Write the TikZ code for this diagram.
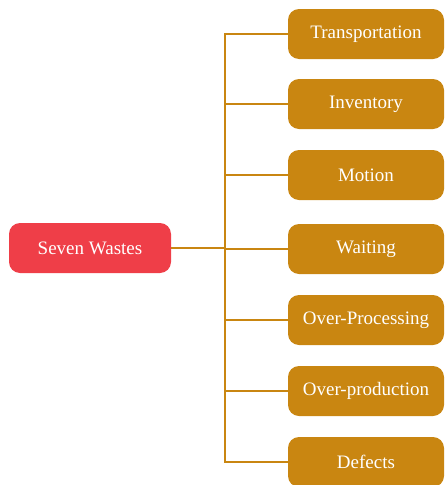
\documentclass[tikz,border=0pt]{standalone}
\usepackage{fontspec}
\setmainfont{Liberation Serif}
\definecolor{rootred}{HTML}{EF3E48}
\definecolor{leafgold}{HTML}{C98611}
\begin{document}
\begin{tikzpicture}[x=1pt,y=-1pt,
  rootbox/.style={fill=rootred, text=white, rounded corners=11pt,
    minimum width=162pt, minimum height=50pt, inner sep=0pt, font=\fontsize{19}{21}\selectfont},
  leafbox/.style={fill=leafgold, text=white, rounded corners=11pt,
    minimum width=156pt, minimum height=50pt, inner sep=0pt, font=\fontsize{19}{21}\selectfont},
  link/.style={draw=leafgold, line width=2.6pt}]
\useasboundingbox (0,0) rectangle (445,485);
\node[rootbox] (root) at (90,248) {Seven Wastes};
\node[leafbox] (l1) at (366,34) {Transportation};
\node[leafbox] (l2) at (366,104) {Inventory};
\node[leafbox] (l3) at (366,175) {Motion};
\node[leafbox] (l4) at (366,249) {Waiting};
\node[leafbox] (l5) at (366,320) {Over-Processing};
\node[leafbox] (l6) at (366,391) {Over-production};
\node[leafbox] (l7) at (366,462) {Defects};
\coordinate (spine) at (225,248);
\draw[link] (root.east) -- (spine);
\draw[link] (l1.west) -| (spine |- l7.west) -- (l7.west);
\foreach \n in {l2,l3,l4,l5,l6}
  \draw[link] (\n.west) -- (spine |- \n.west);
\end{tikzpicture}
\end{document}
